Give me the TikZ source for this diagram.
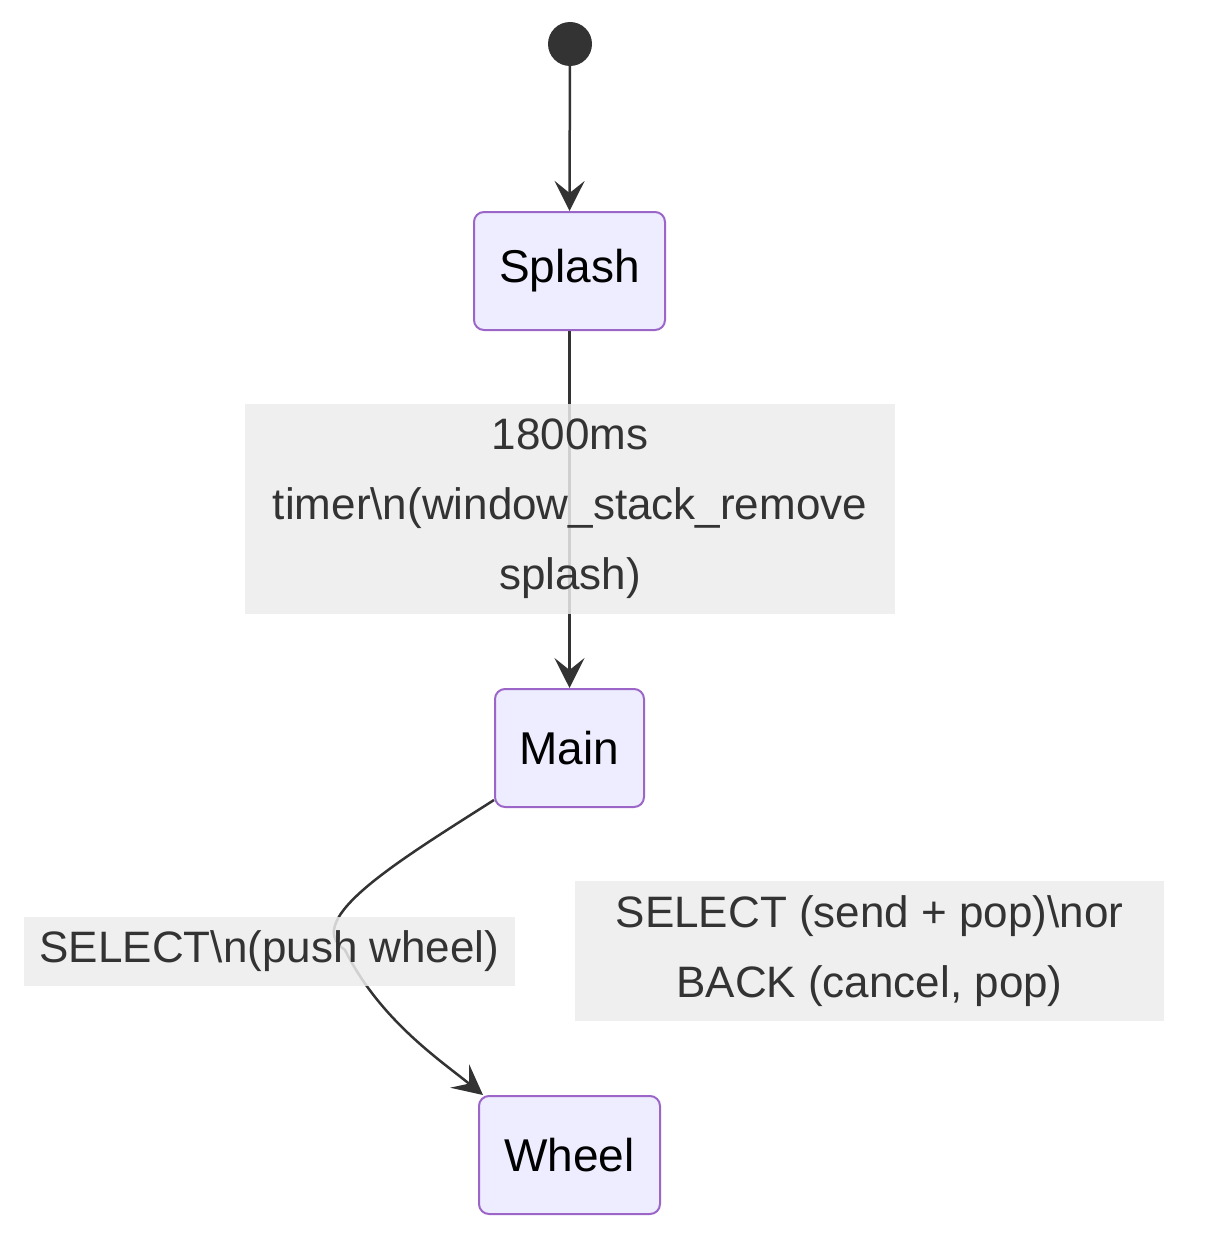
\documentclass[tikz,border=0pt]{standalone}
\usepackage{fontspec}
\setmainfont{Liberation Sans}
\usetikzlibrary{arrows.meta}
\begin{document}
\begin{tikzpicture}[x=1pt,y=-1pt,
 state/.style={draw=violet!70!blue!60,line width=2pt,fill=blue!7,rounded corners=10pt,font=\fontsize{46}{56}\selectfont,text=black,inner sep=0pt},
 lbl/.style={fill=gray!15,fill opacity=0.85,text opacity=1,text=black!80,font=\fontsize{44}{70}\selectfont,align=center,inner sep=0pt},
 edge/.style={draw=black!80,line width=2.5pt,-{Stealth[length=30pt,width=30pt,inset=12pt]}}]
\useasboundingbox (0,0) rectangle (1212,1260);
\node[circle,fill=black!80,minimum size=44pt,inner sep=0pt] (start) at (570,44) {};
\node[state,minimum width=191pt,minimum height=118pt] (splash) at (569.5,271) {Splash};
\node[state,minimum width=149pt,minimum height=118pt] (main) at (569.5,748) {Main};
\node[state,minimum width=181pt,minimum height=118pt] (wheel) at (569.5,1155) {Wheel};
\draw[edge] (start) -- (splash.north);
\draw[edge] (splash.south) -- (main.north);
\draw[edge] (main.south west) ++(0,-8) coordinate (a) .. controls (400,860) and (300,920) .. (345,950) .. controls (380,1020) and (440,1060) .. (wheel.north west -| 483,0) ;
\coordinate (wtop) at (483,1096);
\coordinate (wtr) at (657,1096);
\coordinate (mbr) at (645,800);
\node[lbl,minimum width=650pt,minimum height=210pt] (l1) at (570,509) {1800ms\\timer\textbackslash n(window\_stack\_remove\\splash)};
\node[lbl,minimum width=491pt,minimum height=69pt] (l2) at (269.5,951.5) {SELECT\textbackslash n(push wheel)};
\node[lbl,minimum width=589pt,minimum height=140pt] (l3) at (869.5,951) {SELECT (send + pop)\textbackslash nor\\BACK (cancel, pop)};
\end{tikzpicture}
\end{document}
